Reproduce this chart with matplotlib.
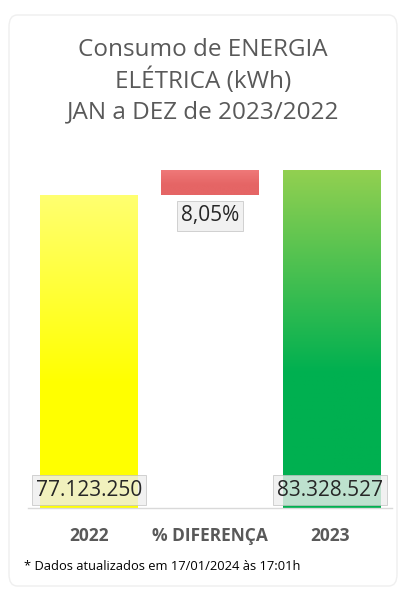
import numpy as np
import matplotlib.pyplot as plt
from matplotlib.patches import FancyBboxPatch
from matplotlib.colors import LinearSegmentedColormap

plt.rcParams['font.family'] = ['Open Sans', 'DejaVu Sans']

# dados
categorias = ['2022', '% DIFERENÇA', '2023']
consumo_2022 = 77123250
consumo_2023 = 83328527
diferenca_pct = 8.05

W, H = 406, 590
fig = plt.figure(figsize=(W / 100, H / 100), dpi=100)
fig.patch.set_facecolor('white')


def fy(py):
    # pixel a partir do topo -> fração da figura
    return (H - py) / H


# cartão de fundo
card = FancyBboxPatch((9 / W, 4 / H), 388 / W, 571 / H,
                      boxstyle='round,pad=0,rounding_size=0.02',
                      transform=fig.transFigure, facecolor='white',
                      edgecolor='#efefef', linewidth=1.0, zorder=-5)
fig.patches.append(card)

fig.text(0.5, fy(50), 'Consumo de ENERGIA', ha='center', va='center',
         fontsize=17.5, color='#595959')
fig.text(0.5, fy(81), 'ELÉTRICA (kWh)', ha='center', va='center',
         fontsize=17.5, color='#595959')
fig.text(0.5, fy(112), 'JAN a DEZ de 2023/2022', ha='center', va='center',
         fontsize=17.5, color='#595959')

ax = fig.add_axes([28 / W, fy(508), 364 / W, 338 / H])
ax.axis('off')

x = np.arange(3)
bottoms = [0, consumo_2022, 0]
heights = [consumo_2022, consumo_2023 - consumo_2022, consumo_2023]
gradientes = [('#ffff00', '#ffff70'), ('#e56565', '#f07a7a'), ('#00b050', '#92d050')]

bars = ax.bar(x, heights, bottom=bottoms, width=0.8, color='none', edgecolor='none')
grad = np.linspace(0, 1, 256).reshape(-1, 1)
for b, (c0, c1) in zip(bars, gradientes):
    cmap = LinearSegmentedColormap.from_list('g', [(0, c0), (0.4, c0), (1, c1)])
    x0, y0 = b.get_x(), b.get_y()
    ax.imshow(grad, cmap=cmap, aspect='auto', origin='lower',
              extent=[x0, x0 + b.get_width(), y0, y0 + b.get_height()], zorder=2)
ax.set_xlim(-0.5, 2.5)
ax.set_ylim(0, consumo_2023)

# linha do eixo
fig.add_artist(plt.Line2D([28 / W, 392 / W], [fy(508)] * 2,
                          color='#d9d9d9', linewidth=1))

caixa = dict(boxstyle='square,pad=0.2', facecolor='#eeeeee', alpha=0.8,
             edgecolor='#bfbfbf', linewidth=0.6)


def fmt(v):
    return f'{v:,}'.replace(',', '.')


fig.text(89 / W, fy(490), fmt(consumo_2022), ha='center', va='center',
         fontsize=15, color='#262626', bbox=caixa)
fig.text(330 / W, fy(490), fmt(consumo_2023), ha='center', va='center',
         fontsize=15, color='#262626', bbox=caixa)
fig.text(210 / W, fy(216), f'{diferenca_pct:.2f}%'.replace('.', ','),
         ha='center', va='center', fontsize=15, color='#262626', bbox=caixa)

for xi, cat in zip([89, 210, 330], categorias):
    fig.text(xi / W, fy(536), cat, ha='center', va='center',
             fontsize=12.5, fontweight='bold', color='#595959')

fig.text(24 / W, fy(566), '* Dados atualizados em 17/01/2024 às 17:01h',
         ha='left', va='center', fontsize=9.3, color='black')

fig.savefig('out.png', dpi=100)
